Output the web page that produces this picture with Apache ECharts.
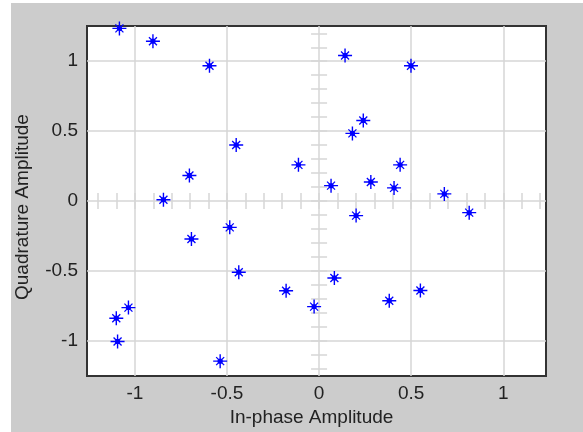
<!DOCTYPE html>
<html>
<head>
<meta charset="utf-8">
<script src="https://cdn.jsdelivr.net/npm/echarts@6/dist/echarts.min.js"></script>
<style>
html,body{margin:0;padding:0;background:#ffffff;}
#bg{position:absolute;left:11px;top:3px;width:572px;height:429px;background:#cccccc;}
#chart{position:absolute;left:0;top:0;width:583px;height:432px;}
</style>
</head>
<body>
<div id="bg"></div>
<div id="chart"></div>
<script>
var inPhase = [-1.084, -0.902, -0.595, -0.450, -0.704, -0.845, -0.112, 0.141, 0.499, 0.240,
               0.181, 0.440, 0.065, 0.281, 0.407, 0.680, 0.815, 0.201, -0.693, -0.485,
               -0.436, -0.179, -0.027, 0.083, 0.381, 0.550, -1.035, -1.101, -1.094, -0.537];
var quadrature = [1.235, 1.143, 0.968, 0.401, 0.183, 0.009, 0.259, 1.041, 0.968, 0.576,
                  0.484, 0.259, 0.110, 0.136, 0.094, 0.051, -0.083, -0.104, -0.271, -0.188,
                  -0.509, -0.642, -0.755, -0.550, -0.713, -0.640, -0.762, -0.838, -1.004, -1.145];
var majorTicks = [-1, -0.5, 0, 0.5, 1];
var xLimits = [-1.26, 1.232];
var yLimits = [-1.252, 1.252];
var minorTickStep = 0.1;
var minorTickMax = 1.2;

var minorTicks = [];
for (var k = -Math.round(minorTickMax / minorTickStep); k <= Math.round(minorTickMax / minorTickStep); k++) {
  minorTicks.push(+(k * minorTickStep).toFixed(2));
}

var points = inPhase.map(function (v, i) { return [v, quadrature[i]]; });

var FONT = "'Liberation Sans', Arial, sans-serif";
var starPath = 'path://M1 7.3 H15 V8.7 H1 Z M7.3 1 H8.7 V15 H7.3 Z ' +
  'M4.45 3.55 L12.45 11.55 L11.55 12.45 L3.55 4.45 Z ' +
  'M12.45 4.45 L4.45 12.45 L3.55 11.55 L11.55 3.55 Z ' +
  'M10.7 8 A2.7 2.7 0 1 1 10.7 7.99 Z';

function majorFmt(v) {
  for (var i = 0; i < majorTicks.length; i++) {
    if (Math.abs(v - majorTicks[i]) < 1e-6) return String(majorTicks[i]);
  }
  return '';
}

var gridColor = '#d6d6d6';

function crossAxis(dim, pos) {
  var lim = dim === 'x' ? xLimits : yLimits;
  return {
    type: 'value', position: pos, min: lim[0], max: lim[1], splitNumber: 25,
    axisLine: { show: false, onZero: true, onZeroAxisIndex: 0 },
    axisTick: { show: true, length: 8, customValues: minorTicks, lineStyle: { color: gridColor, width: 1.5 } },
    axisLabel: { show: false },
    splitLine: { show: false }
  };
}

var chart = echarts.init(document.getElementById('chart'), null, { renderer: 'canvas' });
chart.setOption({
  backgroundColor: 'transparent',
  animation: false,
  grid: {
    left: 87, top: 26, right: 37, bottom: 53,
    show: true, backgroundColor: '#ffffff', borderColor: '#333333', borderWidth: 2
  },
  xAxis: [
    {
      type: 'value', position: 'bottom', min: xLimits[0], max: xLimits[1], splitNumber: 5,
      name: 'In-phase Amplitude', nameLocation: 'middle', nameGap: 31,
      nameTextStyle: { fontFamily: FONT, fontSize: 19, color: '#222', padding: [0, 10, 0, 0] },
      axisLine: { show: false, onZero: false },
      axisTick: { show: false },
      axisLabel: { fontFamily: FONT, fontSize: 19, color: '#222', margin: 8, formatter: majorFmt,
                   customValues: majorTicks },
      splitLine: { show: true, showMinLine: false, showMaxLine: false, lineStyle: { color: gridColor, width: 1.5 } }
    },
    crossAxis('x', 'bottom'),
    crossAxis('x', 'top')
  ],
  yAxis: [
    {
      type: 'value', position: 'left', min: yLimits[0], max: yLimits[1], splitNumber: 5,
      name: 'Quadrature Amplitude', nameLocation: 'middle', nameGap: 55,
      nameTextStyle: { fontFamily: FONT, fontSize: 19, color: '#222', padding: [0, 12, 0, 0] },
      axisLine: { show: false, onZero: false },
      axisTick: { show: false },
      axisLabel: { fontFamily: FONT, fontSize: 19, color: '#222', margin: 9, formatter: majorFmt,
                   customValues: majorTicks },
      splitLine: { show: true, showMinLine: false, showMaxLine: false, lineStyle: { color: gridColor, width: 1.5 } }
    },
    crossAxis('y', 'left'),
    crossAxis('y', 'right')
  ],
  series: [{
    type: 'scatter',
    xAxisIndex: 0, yAxisIndex: 0,
    data: points,
    symbol: starPath,
    symbolSize: 14,
    itemStyle: { color: '#0000ff', opacity: 1 },
    z: 10
  }]
});
</script>
</body>
</html>
